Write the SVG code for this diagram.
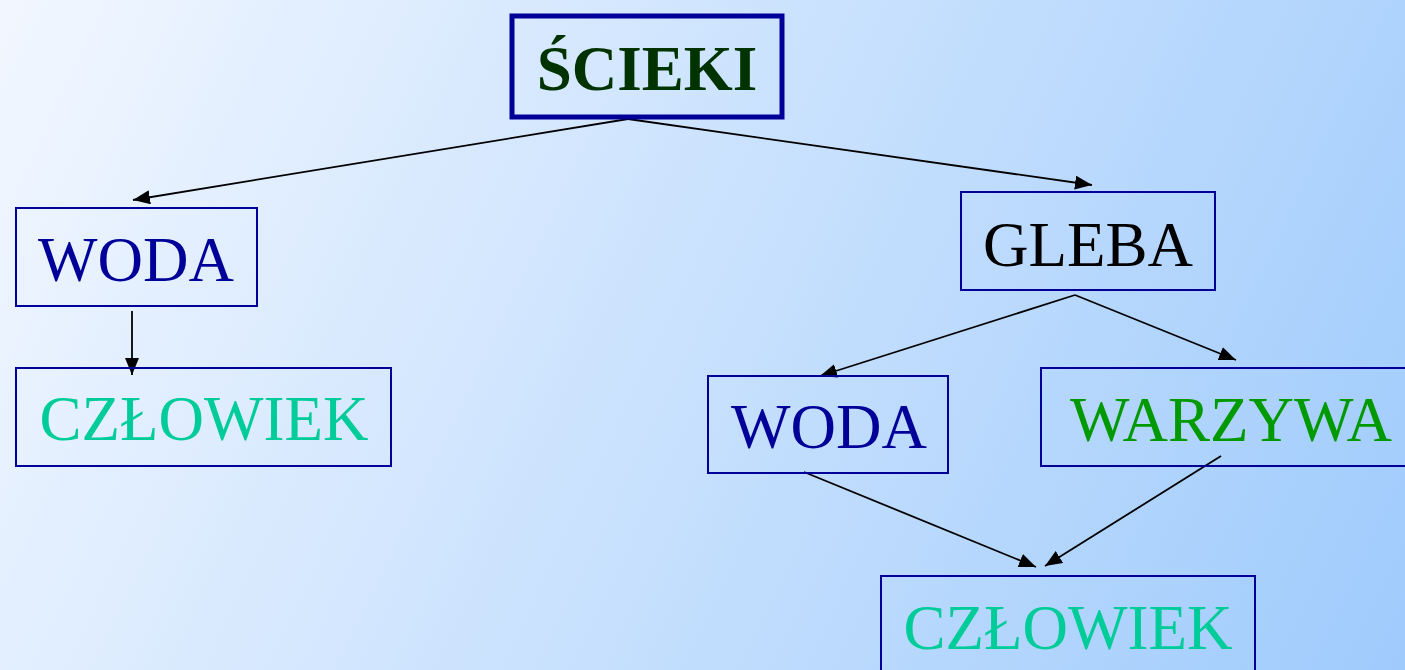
<svg xmlns="http://www.w3.org/2000/svg" width="1405" height="670" viewBox="0 0 1405 670">
<defs>
<linearGradient id="bg" x1="0" y1="0" x2="1405" y2="670" gradientUnits="userSpaceOnUse">
<stop offset="0" stop-color="#f2f7ff"/>
<stop offset="1" stop-color="#9fcbfc"/>
</linearGradient>
<marker id="ah" viewBox="0 0 17 14" refX="17" refY="7" markerWidth="17" markerHeight="14" markerUnits="userSpaceOnUse" orient="auto">
<path d="M0,0 L17,7 L0,14 Z" fill="#000"/>
</marker>
<style>
.box{fill:none;stroke:#000099;stroke-width:2}
.t{font-family:"Liberation Serif","Times New Roman",serif;font-size:63px;text-anchor:middle}
.c{stroke:#000;stroke-width:1.8;fill:none;marker-end:url(#ah)}
</style>
</defs>
<rect x="0" y="0" width="1405" height="670" fill="url(#bg)"/>
<g id="connectors">
<line class="c" x1="628" y1="119" x2="133" y2="200"/>
<line class="c" x1="628" y1="119" x2="1092" y2="185"/>
<line class="c" x1="132" y1="311" x2="132" y2="375"/>
<line class="c" x1="1075" y1="295" x2="820" y2="376"/>
<line class="c" x1="1075" y1="295" x2="1236" y2="360"/>
<line class="c" x1="804" y1="472" x2="1036" y2="567"/>
<line class="c" x1="1221" y1="456" x2="1045" y2="566"/>
</g>
<g id="scieki">
<rect x="512" y="16" width="270" height="101" fill="none" stroke="#000099" stroke-width="5"/>
<text class="t" x="647" y="90" fill="#003300" font-weight="bold" font-size="64">ŚCIEKI</text>
</g>
<g id="woda1">
<rect class="box" x="16" y="208" width="241" height="98"/>
<text class="t" x="136" y="281" fill="#000099">WODA</text>
</g>
<g id="czlowiek1">
<rect class="box" x="16" y="368" width="375" height="98"/>
<text class="t" x="204" y="440" fill="#00cc99">CZŁOWIEK</text>
</g>
<g id="gleba">
<rect class="box" x="961" y="192" width="254" height="98"/>
<text class="t" x="1088" y="266" fill="#000000">GLEBA</text>
</g>
<g id="woda2">
<rect class="box" x="708" y="376" width="240" height="97"/>
<text class="t" x="829" y="448" fill="#000099">WODA</text>
</g>
<g id="warzywa">
<rect class="box" x="1041" y="368" width="375" height="98"/>
<text class="t" x="1231" y="441" fill="#009900">WARZYWA</text>
</g>
<g id="czlowiek2">
<rect class="box" x="881" y="576" width="374" height="100"/>
<text class="t" x="1068" y="649" fill="#00cc99">CZŁOWIEK</text>
</g>
</svg>
